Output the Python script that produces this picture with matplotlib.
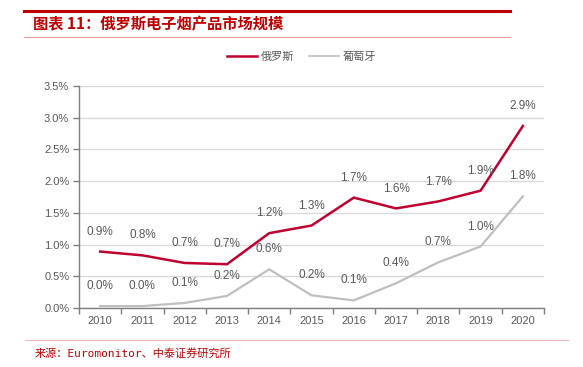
import numpy as np
import matplotlib
matplotlib.use("Agg")
import matplotlib.pyplot as plt
from matplotlib.lines import Line2D
from matplotlib.ticker import FixedLocator, NullFormatter

plt.rcParams["font.family"] = ["Liberation Sans", "Noto Sans CJK SC", "DejaVu Sans"]

# Data
years = ["2010", "2011", "2012", "2013", "2014", "2015", "2016", "2017", "2018", "2019", "2020"]
russia = [0.89, 0.83, 0.71, 0.69, 1.18, 1.30, 1.74, 1.57, 1.68, 1.85, 2.87]
portugal = [0.03, 0.03, 0.08, 0.19, 0.61, 0.20, 0.12, 0.39, 0.72, 0.97, 1.76]
russia_lbl = ["0.9%", "0.8%", "0.7%", "0.7%", "1.2%", "1.3%", "1.7%", "1.6%", "1.7%", "1.9%", "2.9%"]
portugal_lbl = ["0.0%", "0.0%", "0.1%", "0.2%", "0.6%", "0.2%", "0.1%", "0.4%", "0.7%", "1.0%", "1.8%"]
yticks = [0.0, 0.5, 1.0, 1.5, 2.0, 2.5, 3.0, 3.5]

red = "#C0002F"
grey = "#BFBFBF"
txt = "#595959"
cjk = ["Noto Sans CJK SC", "DejaVu Sans"]

fig = plt.figure(figsize=(5.83, 3.67), dpi=100)
ax = fig.add_axes([79/583, 1-308/367, (544-79)/583, (308-86)/367])

x = np.arange(len(years))
ax.plot(x, russia, color=red, lw=1.8, solid_joinstyle="miter", zorder=3)
ax.plot(x, portugal, color=grey, lw=1.6, solid_joinstyle="miter", zorder=3)

for xi, v, s in zip(x, russia, russia_lbl):
    ax.annotate(s, (xi, v), xytext=(0, 10), textcoords="offset points",
                ha="center", va="bottom", fontsize=8.5, color=txt)
for xi, v, s in zip(x, portugal, portugal_lbl):
    ax.annotate(s, (xi, v), xytext=(0, 10), textcoords="offset points",
                ha="center", va="bottom", fontsize=8.5, color=txt)

ax.set_xlim(-0.5, len(years) - 0.5)
ax.set_ylim(0, 3.5)
ax.set_yticks(yticks)
ax.set_yticklabels([f"{t:.1f}%" for t in yticks])
ax.set_xticks(x)
ax.set_xticklabels(years)
ax.xaxis.set_minor_locator(FixedLocator(np.arange(-0.5, len(years), 1.0)))
ax.xaxis.set_minor_formatter(NullFormatter())
ax.tick_params(axis="x", which="major", length=0, labelsize=8, labelcolor=txt, pad=6)
ax.tick_params(axis="x", which="minor", length=4, color="#7F7F7F", width=1)
ax.tick_params(axis="y", length=4, color="#7F7F7F", width=1, labelsize=8, labelcolor=txt, pad=3)
ax.grid(axis="y", color="#D9D9D9", lw=1)
ax.set_axisbelow(True)
for sp in ["top", "right"]:
    ax.spines[sp].set_visible(False)
for sp in ["left", "bottom"]:
    ax.spines[sp].set_color("#7F7F7F")
    ax.spines[sp].set_linewidth(1)

# legend
handles = [Line2D([], [], color=red, lw=1.8), Line2D([], [], color=grey, lw=1.2)]
fig.legend(handles, ["俄罗斯", "葡萄牙"], loc="center", bbox_to_anchor=(0.517, 1-57/367),
           ncol=2, frameon=False, handlelength=2.7, columnspacing=1.35, handletextpad=0.3,
           prop={"family": cjk, "size": 8}, labelcolor=txt)

# title block
fig.add_artist(Line2D([24/583, 510/583], [1-11/367, 1-11/367], color="#C00000", lw=2.2))
fig.add_artist(Line2D([24/583, 510/583], [1-37/367, 1-37/367], color="#E8A0A0", lw=0.8))
fig.text(33/583, 1-24/367, "图表 11：俄罗斯电子烟产品市场规模", color="#C00000", fontsize=11,
         fontweight="bold", family=cjk, ha="left", va="center")

# source
fig.add_artist(Line2D([25/583, 568/583], [1-340/367, 1-340/367], color="#F0B8B8", lw=0.8))
fig.text(35/583, 1-353/367, "来源：Euromonitor、中泰证券研究所", color="#C00000", fontsize=8,
         family=["DejaVu Sans Mono", "Noto Sans CJK SC"], ha="left", va="center")

fig.savefig("out.png", dpi=100)
